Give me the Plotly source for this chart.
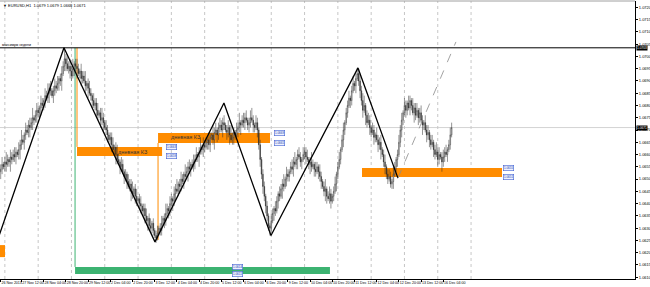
import plotly.graph_objects as go

# ---------------- data ----------------
BASE = 1.0600
PIP = 0.0001

first_open = 53
close_pips = [
    54,56,55,57,56,58,57,59,58,60,
    59,61,60,62,64,66,65,68,70,69,
    72,71,73,75,74,76,78,77,79,81,
    80,82,84,83,85,87,86,84,86,88,
    87,89,91,90,93,96,99,97,95,96,
    94,92,95,97,96,95,93,94,91,92,
    90,88,89,87,85,84,82,80,81,78,
    76,77,74,75,73,71,70,68,66,67,
    64,62,63,60,58,57,55,56,53,51,
    52,49,47,48,45,44,46,43,41,42,
    40,39,37,38,35,33,34,31,30,32,
    29,27,26,28,30,29,32,34,33,36,
    38,37,40,42,41,44,46,45,48,47,
    50,49,52,51,53,55,54,56,55,57,
    58,60,59,61,63,62,64,63,65,66,
    64,67,68,66,69,70,68,71,72,70,
    73,72,70,69,71,68,66,67,69,68,
    70,71,73,72,74,73,75,74,72,73,
    75,74,72,71,73,70,64,58,52,47,
    43,39,35,31,30,33,36,38,37,41,
    44,43,46,48,47,50,52,51,53,55,
    54,57,56,58,60,59,57,58,60,61,
    59,58,56,57,55,56,54,53,55,53,
    51,49,47,45,46,43,42,44,41,43,
    45,48,52,55,58,62,66,70,73,77,
    80,83,82,86,89,88,91,93,90,86,
    82,78,80,76,73,74,71,69,70,67,
    68,66,64,65,62,60,57,55,52,50,
    51,48,49,52,55,58,60,65,70,74,
    77,80,78,81,79,82,80,77,79,76,
    78,75,77,74,72,73,70,68,69,66,
    64,65,62,60,61,58,60,59,57,59,
    61,60,62,64,68,71,
]
upper_wick = [
    2,3,1,2,4,2,1,3,2,2,
    3,2,1,3,2,4,2,1,3,2,
    2,3,2,4,1,2,3,2,1,3,
    2,1,3,2,4,2,3,1,2,3,
    2,3,1,2,3,2,4.5,2,3,2,
    3,2,4,1,2,3,2,1,3,2,
    2,4,1,2,3,2,1,3,2,2,
    3,1,2,4,2,1,3,2,1,2,
    2,3,1,2,4,2,1,3,2,1,
    2,1,3,2,2,4,1,2,3,1,
    2,3,1,2,2,3,1,2,3,1,
    2,1,2,3,1,2,3,1,2,4,
    2,1,3,2,1,3,2,4,1,2,
    3,2,1,4,2,2,3,1,2,3,
    2,3,1,2,4,1,3,2,2,1,
    3,2,1,4,2,3,1,2,3,2,
    2,3,1,2,3,1,4,2,2,1,
    3,2,4,1,2,3,2,3,1,2,
    3,4,2,1,3,2,1,2,1,2,
    2,1,2,1,1,3,2,1,3,2,
    1,3,2,2,4,1,3,2,1,2,
    3,2,4,1,2,3,2,1,3,2,
    2,3,1,2,4,2,1,3,2,1,
    3,2,1,2,4,1,2,3,2,1,
    2,3,1,2,3,1,2,3,1,2,
    2,3,1,2,3,1,2,2.3,2,3,
    2,3,4,1,2,3,2,1,3,2,
    1,3,2,2,3,1,2,3,1,2,
    3,2,1,3,2,1,2,3,2,3,
    1,3,2,1,3,2,1,3,2,2,
    3,1,2,3,2,1,3,2,3,1,
    2,3,1,2,4,2,3,1,2,3,
    2,3,1,2,3,2,
]
lower_wick = [
    3,2,1,2,3,1,2,4,2,1,
    2,3,1,2,4,2,1,3,2,1,
    2,4,1,3,2,1,3,2,2,3,
    1,2,3,1,2,4,2,1,3,2,
    2,1,3,2,4,1,2,3,1,2,
    3,2,1,3,2,4,1,2,3,2,
    1,3,2,4,1,2,3,1,2,3,
    2,1,3,2,4,1,2,3,1,2,
    3,1,2,4,2,1,3,2,1,3,
    2,3,1,2,4,2,1,3,2,1,
    2,3,1,2,3,1,4,2,1,2,
    2,1,2,1,1,2,2,1,3,2,
    1,3,2,1,4,2,3,1,2,3,
    2,1,3,2,1,4,2,3,1,2,
    3,1,2,4,1,2,3,2,1,3,
    2,3,1,2,4,1,3,2,2,1,
    3,2,1,3,2,4,1,2,3,2,
    1,3,2,4,1,2,3,1,2,3,
    2,1,3,2,1,3,2,3,2,3,
    2,3,2,2,3,2,1,3,2,1,
    3,2,1,4,2,1,3,2,2,1,
    2,3,1,2,4,1,2,3,1,2,
    3,1,2,4,2,1,3,2,1,3,
    2,3,1,2,4,3,1,2,3,1,
    2,1,3,2,1,2,1,3,2,1,
    2,1,3,2,1,2,3,1,2,3,
    2,3,1,4,2,1,3,2,1,3,
    2,1,3,2,4,1,2,3,2,2,
    1,1.5,2,3,1,2,3,1,2,3,
    2,1,3,2,1,3,2,1,4,2,
    1,3,2,1,4,2,1,3,2,3,
    2,1,3,2,1,3,2,1,4,2,
    2,1,3,1,2,1,
]
assert len(close_pips) == len(upper_wick) == len(lower_wick), (len(close_pips), len(upper_wick), len(lower_wick))

x_tick_bars = [0, 15, 31, 47, 63, 79, 95, 111, 127, 143, 159, 175, 191, 207, 223, 239, 255, 271, 287, 303, 319]
x_tick_text = ["26 Nov 2013", "27 Nov 12:00", "28 Nov 04:00", "28 Nov 20:00", "29 Nov 12:00",
               "2 Dec 04:00", "2 Dec 20:00", "3 Dec 12:00", "4 Dec 04:00", "4 Dec 20:00",
               "5 Dec 12:00", "6 Dec 04:00", "6 Dec 20:00", "9 Dec 12:00", "10 Dec 04:00",
               "10 Dec 20:00", "11 Dec 12:00", "12 Dec 04:00", "12 Dec 20:00", "13 Dec 12:00",
               "16 Dec 04:00"]
day_start_bars = [3, 27, 51, 75, 99, 123, 147, 171, 195, 219, 243, 267, 291, 315, 339]

y_tick_vals = [1.0720, 1.0715, 1.0710, 1.0705, 1.0700, 1.0695, 1.0690, 1.0685, 1.0680, 1.0675,
               1.0670, 1.0665, 1.0660, 1.0655, 1.0650, 1.0645, 1.0640, 1.0635, 1.0630, 1.0625,
               1.0620, 1.0615, 1.0610]

zigzag_bars = [-2.7, 45.6, 111.2, 160.9, 194.8, 257.5, 286.3]
zigzag_prices = [1.06244, 1.07035, 1.06244, 1.06810, 1.06270, 1.06953, 1.06504]
dash_bars = [286.3, 328.1]
dash_prices = [1.06504, 1.07059]

level_price = 1.07035
level_text = "максимум недели"
current_price = 1.0671

orange_zones_x0 = [-0.5, 55.0, 113.4, 260.4]
orange_zones_x1 = [3.1, 116.3, 194.1, 361.3]
orange_zones_top = [1.06231, 1.06631, 1.06688, 1.06545]
orange_zones_bot = [1.06182, 1.06594, 1.06647, 1.06508]
green_zone = (53.6, 237.3, 1.06142, 1.06113)

zone_label_text = ["дневная КЗ", "дневная КЗ"]
zone_label_bars = [95.4, 133.9]
zone_label_prices = [1.06610, 1.06671]

price_tag_bars = [123.1, 123.1, 200.6, 200.6, 366.3, 366.3, 170.7, 170.7]
price_tag_prices = [1.06631, 1.06594, 1.06688, 1.06647, 1.06545, 1.06508, 1.06142, 1.06113]

vlines_bar = [53.6, 55.0, 113.4]
vlines_from = [1.06142, 1.06631, 1.06647]
vlines_to = [1.07035, 1.07035, 1.06252]
vlines_col = ["#3cb371", "#ff8c00", "#ff8c00"]

title_text = "▼ EURUSD,H1  1.0679 1.0679 1.0668 1.0671"

# ---------------- build ----------------
n = len(close_pips)
bars = list(range(n))
open_pips = [first_open] + close_pips[:-1]
o = [BASE + v * PIP for v in open_pips]
c = [BASE + v * PIP for v in close_pips]
h = [BASE + (max(a, b) + u) * PIP for a, b, u in zip(open_pips, close_pips, upper_wick)]
l = [BASE + (min(a, b) - d) * PIP for a, b, d in zip(open_pips, close_pips, lower_wick)]

FONT = "Liberation Sans"
fig = go.Figure()

fig.add_trace(go.Candlestick(
    x=bars, open=o, high=h, low=l, close=c,
    increasing=dict(line=dict(color="#2a2a2a", width=0.5), fillcolor="#ffffff"),
    decreasing=dict(line=dict(color="#2a2a2a", width=0.5), fillcolor="#2a2a2a"),
    whiskerwidth=0, hoverinfo="skip", showlegend=False,
))
fig.add_trace(go.Scatter(x=zigzag_bars, y=zigzag_prices, mode="lines",
                         line=dict(color="#000000", width=1.3), hoverinfo="skip", showlegend=False))
fig.add_trace(go.Scatter(x=dash_bars, y=dash_prices, mode="lines",
                         line=dict(color="#8a8a8a", width=0.8, dash="dash"), hoverinfo="skip", showlegend=False))

shapes = []
for b in day_start_bars:
    shapes.append(dict(type="line", xref="x", yref="paper", x0=b, x1=b, y0=0, y1=1,
                       line=dict(color="#b8b8b8", width=0.8, dash="dot"), layer="below"))
for x0, x1, t, bt in zip(orange_zones_x0, orange_zones_x1, orange_zones_top, orange_zones_bot):
    shapes.append(dict(type="rect", xref="x", yref="y", x0=x0, x1=x1, y0=bt, y1=t,
                       fillcolor="#ff8c00", line=dict(width=0), layer="below"))
gx0, gx1, gt, gb = green_zone
shapes.append(dict(type="rect", xref="x", yref="y", x0=gx0, x1=gx1, y0=gb, y1=gt,
                   fillcolor="#3cb371", line=dict(width=0), layer="below"))
for b, p0, p1, col in zip(vlines_bar, vlines_from, vlines_to, vlines_col):
    shapes.append(dict(type="line", xref="x", yref="y", x0=b, x1=b, y0=p0, y1=p1,
                       line=dict(color=col, width=1), layer="below"))
shapes.append(dict(type="line", xref="paper", yref="y", x0=0, x1=1, y0=current_price, y1=current_price,
                   line=dict(color="#c8c8c8", width=0.8), layer="below"))
shapes.append(dict(type="line", xref="paper", yref="y", x0=0, x1=1, y0=level_price, y1=level_price,
                   line=dict(color="#000000", width=1)))
shapes.append(dict(type="line", xref="paper", yref="paper", x0=0, x1=1, y0=1, y1=1,
                   line=dict(color="#a0a0a0", width=1)))

annotations = []
annotations.append(dict(xref="paper", yref="paper", x=0.002, y=1, xanchor="left", yanchor="top",
                        text=title_text, showarrow=False, font=dict(family=FONT, size=4, color="#000")))
annotations.append(dict(xref="paper", yref="y", x=0.0, y=level_price, xanchor="left", yanchor="bottom",
                        text=level_text, showarrow=False, font=dict(family=FONT, size=3.5, color="#000"),
                        yshift=-1))
for t, b, p in zip(zone_label_text, zone_label_bars, zone_label_prices):
    annotations.append(dict(xref="x", yref="y", x=b, y=p, text=t, showarrow=False,
                            font=dict(family=FONT, size=5.5, color="#333")))
for b, p in zip(price_tag_bars, price_tag_prices):
    annotations.append(dict(xref="x", yref="y", x=b, y=p, text=f"{p:.4f}", showarrow=False,
                            font=dict(family=FONT, size=3, color="#2040b0"),
                            bgcolor="#eef1ff", bordercolor="#4060d0", borderwidth=0.6, borderpad=0.3))
for p in [level_price, current_price]:
    annotations.append(dict(xref="paper", yref="y", x=1, y=p, xanchor="left", text=f"{p:.4f}",
                            showarrow=False, xshift=1,
                            font=dict(family=FONT, size=3.2, color="#ffffff"),
                            bgcolor="#000000", borderpad=0))

px_per_bar = 1.3875
plot_w = 635
fig.update_layout(
    width=650, height=287,
    margin=dict(l=0, r=15, t=1, b=8, autoexpand=False),
    paper_bgcolor="#ffffff", plot_bgcolor="#ffffff",
    showlegend=False, hovermode=False,
    shapes=shapes, annotations=annotations,
    xaxis=dict(range=[-0.5, plot_w / px_per_bar - 0.5], rangeslider=dict(visible=False),
               automargin=False,
               showgrid=False, zeroline=False, showline=True, linecolor="#000", linewidth=1,
               tickmode="array", tickvals=x_tick_bars, ticktext=x_tick_text,
               ticks="outside", ticklen=1.5, tickcolor="#000", tickwidth=0.6,
               ticklabelposition="outside right", tickangle=0,
               tickfont=dict(family=FONT, size=3.6, color="#000")),
    yaxis=dict(range=[1.060928, 1.072257], side="right", showgrid=False, zeroline=False,
               automargin=False,
               showline=True, linecolor="#000", linewidth=1,
               tickmode="array", tickvals=y_tick_vals, ticktext=[f"{v:.4f}" for v in y_tick_vals],
               ticks="outside", ticklen=2, tickcolor="#000", tickwidth=0.6,
               tickfont=dict(family=FONT, size=4, color="#000")),
)

fig.write_html("out.html")
